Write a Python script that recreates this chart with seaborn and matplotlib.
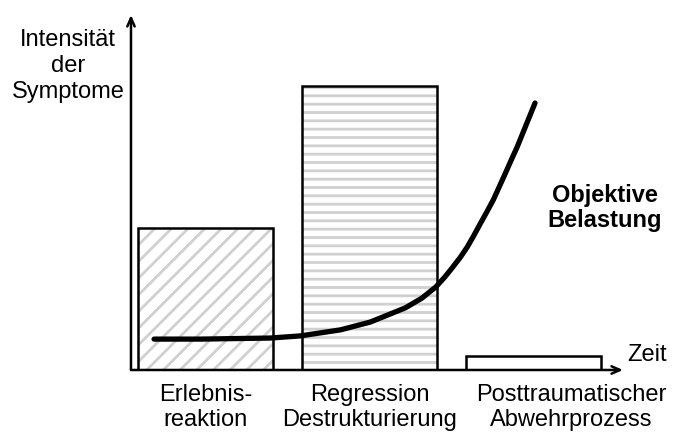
import seaborn as sns
import matplotlib.pyplot as plt

sns.set_theme(style='white')
plt.rcParams['font.family'] = ['Liberation Sans', 'DejaVu Sans']
plt.rcParams['hatch.linewidth'] = 2.0
plt.rcParams['text.color'] = 'black'
plt.rcParams['xtick.color'] = 'black'

# phases (bars) on the time axis
phases = ['Erlebnis-\nreaktion', 'Regression\nDestrukturierung', 'Posttraumatischer\nAbwehrprozess']
phase_pos = [1.0, 3.2, 5.4]
label_pos = [1.0, 3.2, 5.91]
symptom_height = [4.0, 8.0, 0.4]
phase_hatch = ['//', '--', None]

# objective load curve
load_x = [0.31, 0.93, 1.87, 2.27, 2.81, 3.21, 3.68, 3.90, 4.09, 4.21, 4.31, 4.42, 4.51, 4.60,
          4.68, 4.77, 4.86, 4.94, 5.02, 5.10, 5.18, 5.25, 5.30, 5.36, 5.42]
load_y = [0.87, 0.87, 0.90, 0.96, 1.13, 1.35, 1.75, 2.02, 2.34, 2.62, 2.88, 3.18, 3.46, 3.79,
          4.10, 4.44, 4.79, 5.16, 5.53, 5.91, 6.28, 6.64, 6.90, 7.21, 7.52]

fig = plt.figure(figsize=(6.79, 4.36), dpi=100)
ax = fig.add_axes([0.1929, 0.1514, 0.7246, 0.8142])

# hatched fill
sns.barplot(x=phase_pos, y=symptom_height, native_scale=True, width=1.8 / 2.2,
            color='white', ax=ax)
for p, h in zip(ax.patches, phase_hatch):
    p.set_facecolor('white')
    p.set_edgecolor('#d0d0d0')
    p.set_linewidth(0)
    if h:
        p.set_hatch(h)

# black outlines
sns.barplot(x=phase_pos, y=symptom_height, native_scale=True, width=1.8 / 2.2,
            fill=False, color='black', linewidth=1.8, ax=ax)

sns.lineplot(x=load_x, y=load_y, sort=False, color='black', lw=3.8, ax=ax)
ax.lines[-1].set_solid_joinstyle('round')

ax.set_xlim(0, 6.6)
ax.set_ylim(0, 10)
for s in ax.spines.values():
    s.set_visible(False)
ax.set_xticks(label_pos, phases, fontsize=17, linespacing=1.2)
ax.tick_params(axis='x', length=0, pad=10)
ax.set_yticks([])
ax.set_xlabel('')
ax.set_ylabel('')

arrow = dict(arrowstyle='->,head_length=0.5,head_width=0.22', color='black', lw=1.8,
             shrinkA=0, shrinkB=0)
ax.annotate('', xy=(1, 0), xytext=(0, 0), xycoords='axes fraction', arrowprops=arrow)
ax.annotate('', xy=(0, 1), xytext=(0, 0), xycoords='axes fraction', arrowprops=arrow)

fig.text(68 / 679, 1 - 66 / 436, 'Intensität\nder\nSymptome', ha='center', va='center',
         fontsize=17, linespacing=1.25)
fig.text(627 / 679, 1 - 355 / 436, 'Zeit', ha='left', va='center', fontsize=17)
fig.text(605 / 679, 1 - 208 / 436, 'Objektive\nBelastung', ha='center', va='center',
         fontsize=17, fontweight='bold', linespacing=1.15)

fig.savefig('out.png', dpi=100)
